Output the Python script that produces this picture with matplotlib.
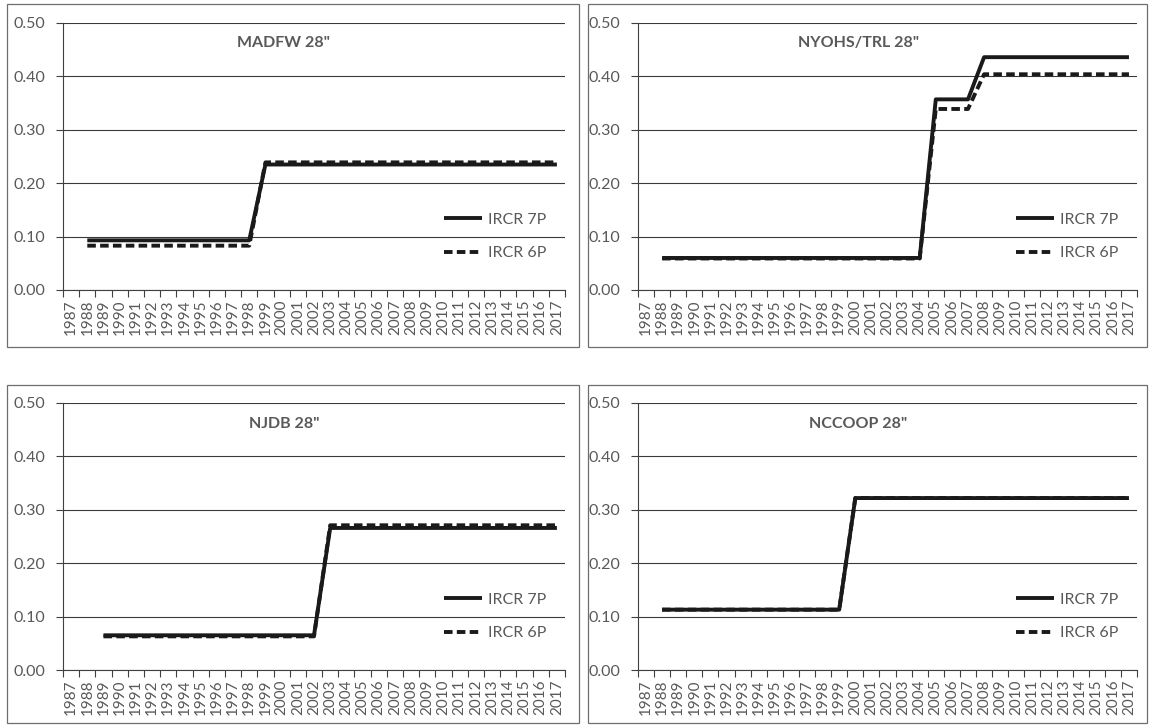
import matplotlib.pyplot as plt
from matplotlib.patches import Rectangle
import numpy as np

plt.rcParams['font.family'] = ['Lato', 'DejaVu Sans']

years = list(range(1987, 2018))

# values, None = no data for that year
madfw_7p = [None, 0.093, 0.093, 0.093, 0.093, 0.093, 0.093, 0.093, 0.093, 0.093, 0.093, 0.093,
            0.235, 0.235, 0.235, 0.235, 0.235, 0.235, 0.235, 0.235, 0.235, 0.235,
            0.235, 0.235, 0.235, 0.235, 0.235, 0.235, 0.235, 0.235, 0.235]
madfw_6p = [None, 0.083, 0.083, 0.083, 0.083, 0.083, 0.083, 0.083, 0.083, 0.083, 0.083, 0.083,
            0.239, 0.239, 0.239, 0.239, 0.239, 0.239, 0.239, 0.239, 0.239, 0.239,
            0.239, 0.239, 0.239, 0.239, 0.239, 0.239, 0.239, 0.239, 0.239]
nyohs_7p = [None, 0.060, 0.060, 0.060, 0.060, 0.060, 0.060, 0.060, 0.060, 0.060, 0.060, 0.060,
            0.060, 0.060, 0.060, 0.060, 0.060, 0.060, 0.357, 0.357, 0.357,
            0.436, 0.436, 0.436, 0.436, 0.436, 0.436, 0.436, 0.436, 0.436, 0.436]
nyohs_6p = [None, 0.059, 0.059, 0.059, 0.059, 0.059, 0.059, 0.059, 0.059, 0.059, 0.059, 0.059,
            0.059, 0.059, 0.059, 0.059, 0.059, 0.059, 0.339, 0.339, 0.339,
            0.404, 0.404, 0.404, 0.404, 0.404, 0.404, 0.404, 0.404, 0.404, 0.404]
njdb_7p = [None, None, 0.065, 0.065, 0.065, 0.065, 0.065, 0.065, 0.065, 0.065, 0.065, 0.065,
           0.065, 0.065, 0.065, 0.065, 0.266, 0.266, 0.266, 0.266, 0.266,
           0.266, 0.266, 0.266, 0.266, 0.266, 0.266, 0.266, 0.266, 0.266, 0.266]
njdb_6p = [None, None, 0.063, 0.063, 0.063, 0.063, 0.063, 0.063, 0.063, 0.063, 0.063, 0.063,
           0.063, 0.063, 0.063, 0.063, 0.271, 0.271, 0.271, 0.271, 0.271,
           0.271, 0.271, 0.271, 0.271, 0.271, 0.271, 0.271, 0.271, 0.271, 0.271]
nccoop_7p = [None, 0.113, 0.113, 0.113, 0.113, 0.113, 0.113, 0.113, 0.113, 0.113, 0.113, 0.113,
             0.113, 0.322, 0.322, 0.322, 0.322, 0.322, 0.322, 0.322, 0.322,
             0.322, 0.322, 0.322, 0.322, 0.322, 0.322, 0.322, 0.322, 0.322, 0.322]
nccoop_6p = [None, 0.113, 0.113, 0.113, 0.113, 0.113, 0.113, 0.113, 0.113, 0.113, 0.113, 0.113,
             0.113, 0.322, 0.322, 0.322, 0.322, 0.322, 0.322, 0.322, 0.322,
             0.322, 0.322, 0.322, 0.322, 0.322, 0.322, 0.322, 0.322, 0.322, 0.322]

titles = ['MADFW 28"', 'NYOHS/TRL 28"', 'NJDB 28"', 'NCCOOP 28"']
series_7p = [madfw_7p, nyohs_7p, njdb_7p, nccoop_7p]
series_6p = [madfw_6p, nyohs_6p, njdb_6p, nccoop_6p]
yticks = [0.0, 0.1, 0.2, 0.3, 0.4, 0.5]

W, H = 1150, 726
fig = plt.figure(figsize=(W / 100, H / 100), dpi=100)

# pixel layout: chart box and plot area for each panel
boxes = [(7, 4, 579, 347), (588, 4, 1147, 347), (7, 385, 579, 723), (588, 385, 1147, 723)]
plots = [(63, 23, 565, 290), (638, 23, 1137, 290), (63, 403, 565, 670), (638, 403, 1137, 670)]

gray = '#595959'
line_col = '#1a1a1a'

for i in range(4):
    bx0, by0, bx1, by1 = boxes[i]
    fig.patches.append(Rectangle((bx0 / W, 1 - by1 / H), (bx1 - bx0) / W, (by1 - by0) / H,
                                 transform=fig.transFigure, fill=False,
                                 edgecolor='#6e6e6e', lw=0.9))
    x0, y0, x1, y1 = plots[i]
    ax = fig.add_axes([x0 / W, 1 - y1 / H, (x1 - x0) / W, (y1 - y0) / H])

    x = np.arange(len(years))
    l7, = ax.plot(x, np.array(series_7p[i], dtype=float), color=line_col, lw=2.8,
                  solid_capstyle='butt', label='IRCR 7P', zorder=3)
    l6, = ax.plot(x, np.array(series_6p[i], dtype=float), color=line_col, lw=2.8,
                  linestyle=(0, (2.2, 1.1)), dash_capstyle='butt', label='IRCR 6P', zorder=3)

    ax.set_xlim(-0.5, len(years) - 0.5)
    ax.set_ylim(0, 0.5)
    ax.set_xticks(x)
    ax.set_xticklabels([str(y) for y in years], rotation=90, fontsize=11, color=gray)
    ax.set_xticks(np.arange(-0.5, len(years), 1), minor=True)
    ax.tick_params(axis='x', which='major', length=0, pad=7)
    ax.tick_params(axis='x', which='minor', length=5, width=0.8, color='#404040', direction='out')
    ax.set_yticks(yticks)
    ax.set_yticklabels(['%.2f' % v for v in yticks], fontsize=11.5, color=gray)
    ax.tick_params(axis='y', length=5, width=0.8, color='#404040', direction='out', pad=8)

    ax.yaxis.grid(True, color='#3a3a3a', lw=0.8)
    ax.set_axisbelow(True)
    for s in ['top', 'right']:
        ax.spines[s].set_visible(False)
    ax.spines['left'].set_color('#404040')
    ax.spines['left'].set_linewidth(0.8)
    ax.spines['bottom'].set_color('#404040')
    ax.spines['bottom'].set_linewidth(0.8)
    ax.patch.set_alpha(0)

    leg = ax.legend(handles=[l7, l6], loc='center right', bbox_to_anchor=(0.985, 0.20),
                    frameon=False, fontsize=11.5, handlelength=2.4, handletextpad=0.35,
                    labelspacing=1.2, borderaxespad=0.3)
    for t in leg.get_texts():
        t.set_color(gray)

    fig.text((bx0 + bx1) / 2 / W - 0.008, 1 - (by0 + 39) / H, titles[i], ha='center',
             va='center', fontsize=11.5, fontweight='bold', color=gray)

fig.savefig('out.png', dpi=100)
